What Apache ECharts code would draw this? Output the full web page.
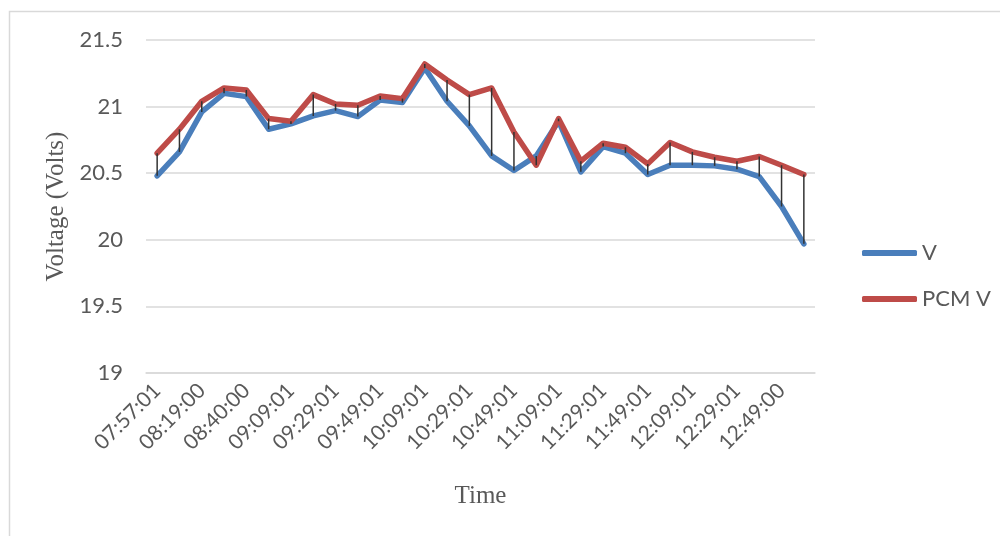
<!DOCTYPE html>
<html>
<head>
<meta charset="utf-8">
<script src="https://cdn.jsdelivr.net/npm/echarts@6/dist/echarts.min.js"></script>
<style>
  html, body { margin: 0; padding: 0; background: #fff; }
  #chart { width: 1000px; height: 536px; }
</style>
</head>
<body>
<div id="chart"></div>
<script>
// Sample times (every other one is printed on the axis)
const times = [
  '07:57:01', '08:08:01', '08:19:00', '08:29:01', '08:40:00', '08:59:01',
  '09:09:01', '09:19:01', '09:29:01', '09:39:01', '09:49:01', '09:59:01',
  '10:09:01', '10:19:01', '10:29:01', '10:39:01', '10:49:01', '10:59:01',
  '11:09:01', '11:19:01', '11:29:01', '11:39:01', '11:49:01', '11:59:01',
  '12:09:01', '12:19:01', '12:29:01', '12:39:01', '12:49:00', '12:59:01'
];

// Measured voltage
const voltage = [
  20.48, 20.66, 20.96, 21.10, 21.075, 20.83, 20.87, 20.93, 20.97, 20.925,
  21.05, 21.03, 21.29, 21.04, 20.855, 20.63, 20.52, 20.63, 20.89, 20.51,
  20.70, 20.65, 20.49, 20.56, 20.56, 20.555, 20.53, 20.475, 20.25, 19.97
];

// Voltage with PCM
const pcmVoltage = [
  20.65, 20.83, 21.04, 21.14, 21.125, 20.91, 20.89, 21.09, 21.02, 21.01,
  21.08, 21.06, 21.32, 21.20, 21.09, 21.14, 20.81, 20.56, 20.91, 20.59,
  20.725, 20.695, 20.57, 20.73, 20.66, 20.62, 20.59, 20.625, 20.56, 20.49
];

const yTicks = { min: 19, max: 21.5, step: 0.5 };

const chart = echarts.init(document.getElementById('chart'), null, { renderer: 'canvas' });

const tickFont = 'Lato, "Open Sans", sans-serif';
const titleFont = '"Liberation Serif", "DejaVu Serif", serif';
const textGrey = '#595959';
const gridGrey = '#d9d9d9';

chart.setOption({
  animation: false,
  backgroundColor: '#ffffff',
  graphic: [{
    type: 'rect',
    silent: true,
    shape: { x: 9.5, y: 11.5, width: 1100, height: 700 },
    style: { fill: 'none', stroke: '#d9d9d9', lineWidth: 1.5 },
    z: -10
  }],
  grid: { left: 146, right: 185, top: 40, bottom: 163, containLabel: false },
  legend: {
    orient: 'vertical',
    left: 862,
    top: 242,
    padding: 0,
    itemWidth: 55,
    itemHeight: 6,
    itemGap: 24,
    icon: 'roundRect',
    textStyle: { fontFamily: tickFont, fontSize: 22, color: textGrey, lineHeight: 22, padding: [0, 0, 0, 0] },
    data: ['V', 'PCM V']
  },
  xAxis: {
    type: 'category',
    data: times,
    boundaryGap: true,
    name: 'Time',
    nameLocation: 'middle',
    nameGap: 111,
    nameTextStyle: { fontFamily: titleFont, fontSize: 25, color: textGrey },
    axisLine: { show: true, lineStyle: { color: gridGrey, width: 1.5 } },
    axisTick: { show: false },
    axisLabel: {
      interval: 1,
      rotate: 45,
      margin: 14,
      fontFamily: tickFont,
      fontSize: 21,
      color: textGrey
    },
    splitLine: { show: false }
  },
  yAxis: {
    type: 'value',
    min: yTicks.min,
    max: yTicks.max,
    interval: yTicks.step,
    name: 'Voltage (Volts)',
    nameLocation: 'middle',
    nameGap: 73,
    nameRotate: 90,
    nameTextStyle: { fontFamily: titleFont, fontSize: 25, color: textGrey },
    axisLine: { show: false },
    axisTick: { show: false },
    axisLabel: {
      margin: 23,
      fontFamily: tickFont,
      fontSize: 22,
      color: textGrey,
      formatter: v => String(Math.round(v * 10) / 10)
    },
    splitLine: { lineStyle: { color: gridGrey, width: 1.5 } }
  },
  series: [
    {
      name: 'V',
      type: 'line',
      data: voltage,
      symbol: 'none',
      lineStyle: { color: '#4a7ebb', width: 5.5, cap: 'round', join: 'round' },
      itemStyle: { color: '#4a7ebb' },
      z: 2
    },
    {
      name: 'PCM V',
      type: 'line',
      data: pcmVoltage,
      symbol: 'none',
      lineStyle: { color: '#be4b48', width: 5.5, cap: 'round', join: 'round' },
      itemStyle: { color: '#be4b48' },
      z: 3
    },
    {
      // high-low lines joining the two series at each sample
      type: 'custom',
      name: 'hilo',
      data: voltage.map((v, i) => [i, v, pcmVoltage[i]]),
      encode: { x: 0, y: [1, 2] },
      renderItem: (params, api) => {
        const a = api.coord([api.value(0), api.value(1)]);
        const b = api.coord([api.value(0), api.value(2)]);
        return {
          type: 'line',
          shape: { x1: a[0], y1: a[1], x2: b[0], y2: b[1] },
          style: { stroke: '#333333', lineWidth: 1.5 }
        };
      },
      silent: true,
      z: 4
    }
  ]
});
</script>
</body>
</html>
